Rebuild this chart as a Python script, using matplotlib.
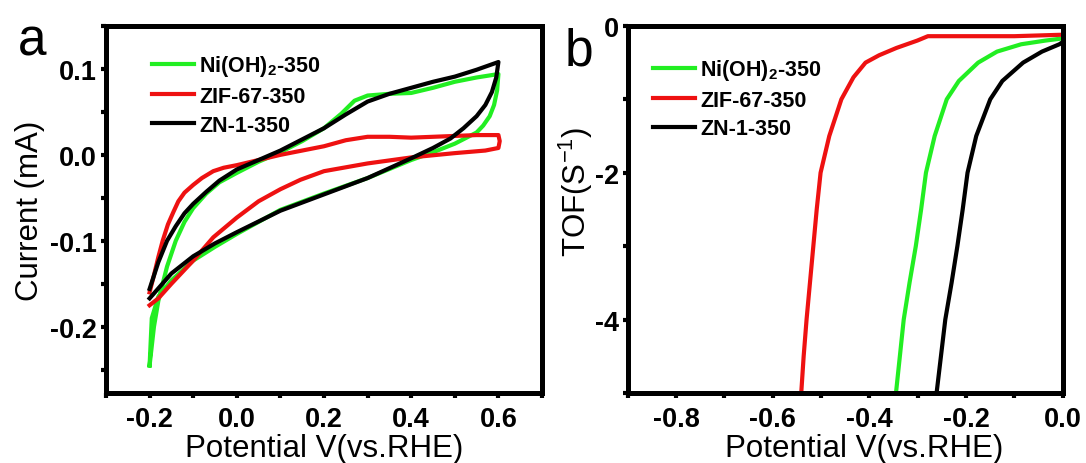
import matplotlib
matplotlib.use('Agg')
import matplotlib.pyplot as plt
from matplotlib.ticker import MultipleLocator

plt.rcParams['font.family'] = ['Liberation Sans', 'DejaVu Sans']
plt.rcParams['mathtext.default'] = 'regular'
plt.rcParams['axes.unicode_minus'] = False

GREEN = '#22ee22'
RED = '#ee1111'
BLACK = '#000000'
labels = ['Ni(OH)$_2$-350', 'ZIF-67-350', 'ZN-1-350']

# (a) cyclic voltammetry loops: anodic sweep followed by cathodic return
ni_cv_v = [-0.2, -0.19, -0.18, -0.16, -0.14, -0.12, -0.1, -0.07, -0.04, 0.0, 0.05, 0.1, 0.15,
           0.2, 0.24, 0.27, 0.3, 0.35, 0.4, 0.45, 0.5, 0.55, 0.6,
           0.597, 0.59, 0.58, 0.565, 0.55, 0.5, 0.45, 0.4, 0.3, 0.2, 0.1, 0.0, -0.05, -0.1,
           -0.15, -0.18, -0.195, -0.2]
ni_cv_i = [-0.245, -0.2, -0.17, -0.13, -0.1, -0.078, -0.062, -0.045, -0.032, -0.021, -0.008, 0.003, 0.016,
           0.031, 0.048, 0.063, 0.069, 0.071, 0.072, 0.078, 0.085, 0.09, 0.094,
           0.075, 0.058, 0.045, 0.034, 0.026, 0.013, 0.003, -0.006, -0.027, -0.045, -0.064, -0.092, -0.107, -0.123,
           -0.146, -0.165, -0.19, -0.245]

zif_cv_v = [-0.2, -0.19, -0.18, -0.17, -0.158, -0.145, -0.134, -0.12, -0.1, -0.08, -0.054, -0.03, 0.0, 0.05,
            0.1, 0.15, 0.2, 0.25, 0.3, 0.35, 0.4, 0.45, 0.5, 0.55, 0.6, 0.603, 0.6,
            0.57, 0.5, 0.4, 0.3, 0.2, 0.146, 0.1, 0.05, 0.0, -0.054, -0.1, -0.15, -0.18, -0.2]
zif_cv_i = [-0.16, -0.14, -0.119, -0.1, -0.081, -0.066, -0.054, -0.044, -0.035, -0.027, -0.019, -0.015, -0.012, -0.006,
            0.0, 0.005, 0.01, 0.017, 0.021, 0.021, 0.02, 0.021, 0.022, 0.023, 0.023, 0.016, 0.008,
            0.005, 0.002, -0.003, -0.01, -0.019, -0.029, -0.04, -0.054, -0.073, -0.096, -0.123, -0.15, -0.167, -0.175]

zn_cv_v = [-0.2, -0.18, -0.16, -0.14, -0.12, -0.1, -0.07, -0.04, 0.0, 0.05, 0.1, 0.15, 0.2, 0.25,
           0.3, 0.35, 0.4, 0.45, 0.5, 0.55, 0.6,
           0.595, 0.585, 0.57, 0.55, 0.52, 0.49, 0.45, 0.4, 0.3, 0.2, 0.1, 0.0, -0.05, -0.1, -0.15, -0.2]
zn_cv_i = [-0.156, -0.125, -0.1, -0.083, -0.068, -0.057, -0.043, -0.03, -0.017, -0.006, 0.005, 0.018, 0.031, 0.047,
           0.062, 0.071, 0.078, 0.085, 0.091, 0.099, 0.108,
           0.09, 0.073, 0.058, 0.045, 0.031, 0.019, 0.008, -0.004, -0.027, -0.046, -0.065, -0.09, -0.103, -0.118, -0.138,
           -0.167]

# (b) turnover frequency vs potential
ni_tof_v = [-0.345, -0.337, -0.329, -0.317, -0.304, -0.293, -0.283, -0.265, -0.24, -0.215, -0.175, -0.136, -0.086,
            -0.036, 0.0]
ni_tof = [-5.0, -4.5, -4.0, -3.5, -3.0, -2.5, -2.0, -1.5, -1.0, -0.75, -0.5, -0.35, -0.25, -0.2, -0.17]

zif_tof_v = [-0.541, -0.536, -0.53, -0.523, -0.516, -0.509, -0.501, -0.483, -0.458, -0.433, -0.408, -0.38, -0.344,
             -0.301, -0.279, -0.2, -0.1, 0.0]
zif_tof = [-5.0, -4.5, -4.0, -3.5, -3.0, -2.5, -2.0, -1.5, -1.0, -0.7, -0.5, -0.4, -0.3, -0.2, -0.14, -0.14, -0.14,
           -0.12]

zn_tof_v = [-0.261, -0.252, -0.243, -0.23, -0.218, -0.207, -0.197, -0.179, -0.15, -0.125, -0.082, -0.043, -0.007,
            0.0]
zn_tof = [-5.0, -4.5, -4.0, -3.5, -3.0, -2.5, -2.0, -1.5, -1.0, -0.75, -0.5, -0.35, -0.25, -0.22]


def style_axes(ax):
    for side in ['left', 'right', 'top', 'bottom']:
        ax.spines[side].set_linewidth(3.6)
    ax.tick_params(which='both', direction='out', width=3, length=3.5,
                   top=False, right=False, labelsize=19.5, pad=3)
    ax.tick_params(axis='x', which='both', pad=6)
    for lab in ax.get_xticklabels() + ax.get_yticklabels():
        lab.set_fontweight('bold')


fig = plt.figure(figsize=(10.86, 4.64), dpi=100)
ax1 = fig.add_axes([0.0976, 0.151, 0.4015, 0.791])
ax2 = fig.add_axes([0.578, 0.151, 0.4006, 0.791])

lw = 3.0
ax1.plot(ni_cv_v, ni_cv_i, color=GREEN, lw=lw, label=labels[0], solid_joinstyle='round')
ax1.plot(zif_cv_v, zif_cv_i, color=RED, lw=lw, label=labels[1], solid_joinstyle='round')
ax1.plot(zn_cv_v, zn_cv_i, color=BLACK, lw=lw, label=labels[2], solid_joinstyle='round')
ax1.set_xlim(-0.3, 0.7)
ax1.set_ylim(-0.277, 0.15)
ax1.set_xticks([-0.2, 0.0, 0.2, 0.4, 0.6])
ax1.set_yticks([-0.2, -0.1, 0.0, 0.1])
ax1.xaxis.set_minor_locator(MultipleLocator(0.1))
ax1.yaxis.set_minor_locator(MultipleLocator(0.05))
ax1.set_xlabel('Potential V(vs.RHE)', fontsize=22.5)
ax1.set_ylabel('Current (mA)', fontsize=22.5, labelpad=4)
ax1.xaxis.set_label_coords(0.5, -0.11)
style_axes(ax1)

ax2.plot(ni_tof_v, ni_tof, color=GREEN, lw=lw, label=labels[0])
ax2.plot(zif_tof_v, zif_tof, color=RED, lw=lw, label=labels[1])
ax2.plot(zn_tof_v, zn_tof, color=BLACK, lw=lw, label=labels[2])
ax2.set_xlim(-0.9, 0.0)
ax2.set_ylim(-5, 0)
ax2.set_xticks([-0.8, -0.6, -0.4, -0.2, 0.0])
ax2.set_yticks([-4, -2, 0])
ax2.xaxis.set_minor_locator(MultipleLocator(0.1))
ax2.yaxis.set_minor_locator(MultipleLocator(1))
ax2.set_xlabel('Potential V(vs.RHE)', fontsize=22.5)
ax2.set_ylabel('TOF(S$^{-1}$)', fontsize=22.5)
ax2.xaxis.set_label_coords(0.543, -0.11)
ax2.yaxis.set_label_coords(-0.076, 0.55)
style_axes(ax2)

for ax, anchor in [(ax1, (0.105, 0.925)), (ax2, (0.058, 0.915))]:
    ax.legend(loc='upper left', bbox_to_anchor=anchor, frameon=False,
              prop={'weight': 'bold', 'size': 15.5}, handlelength=1.95,
              handletextpad=0.25, labelspacing=0.35, borderpad=0, borderaxespad=0)

fig.text(18 / 1086, 1 - 55 / 464, 'a', fontsize=37, ha='left', va='baseline')
fig.text(565 / 1086, 1 - 66 / 464, 'b', fontsize=37, ha='left', va='baseline')

fig.savefig('out.png', dpi=100)
plt.close(fig)
